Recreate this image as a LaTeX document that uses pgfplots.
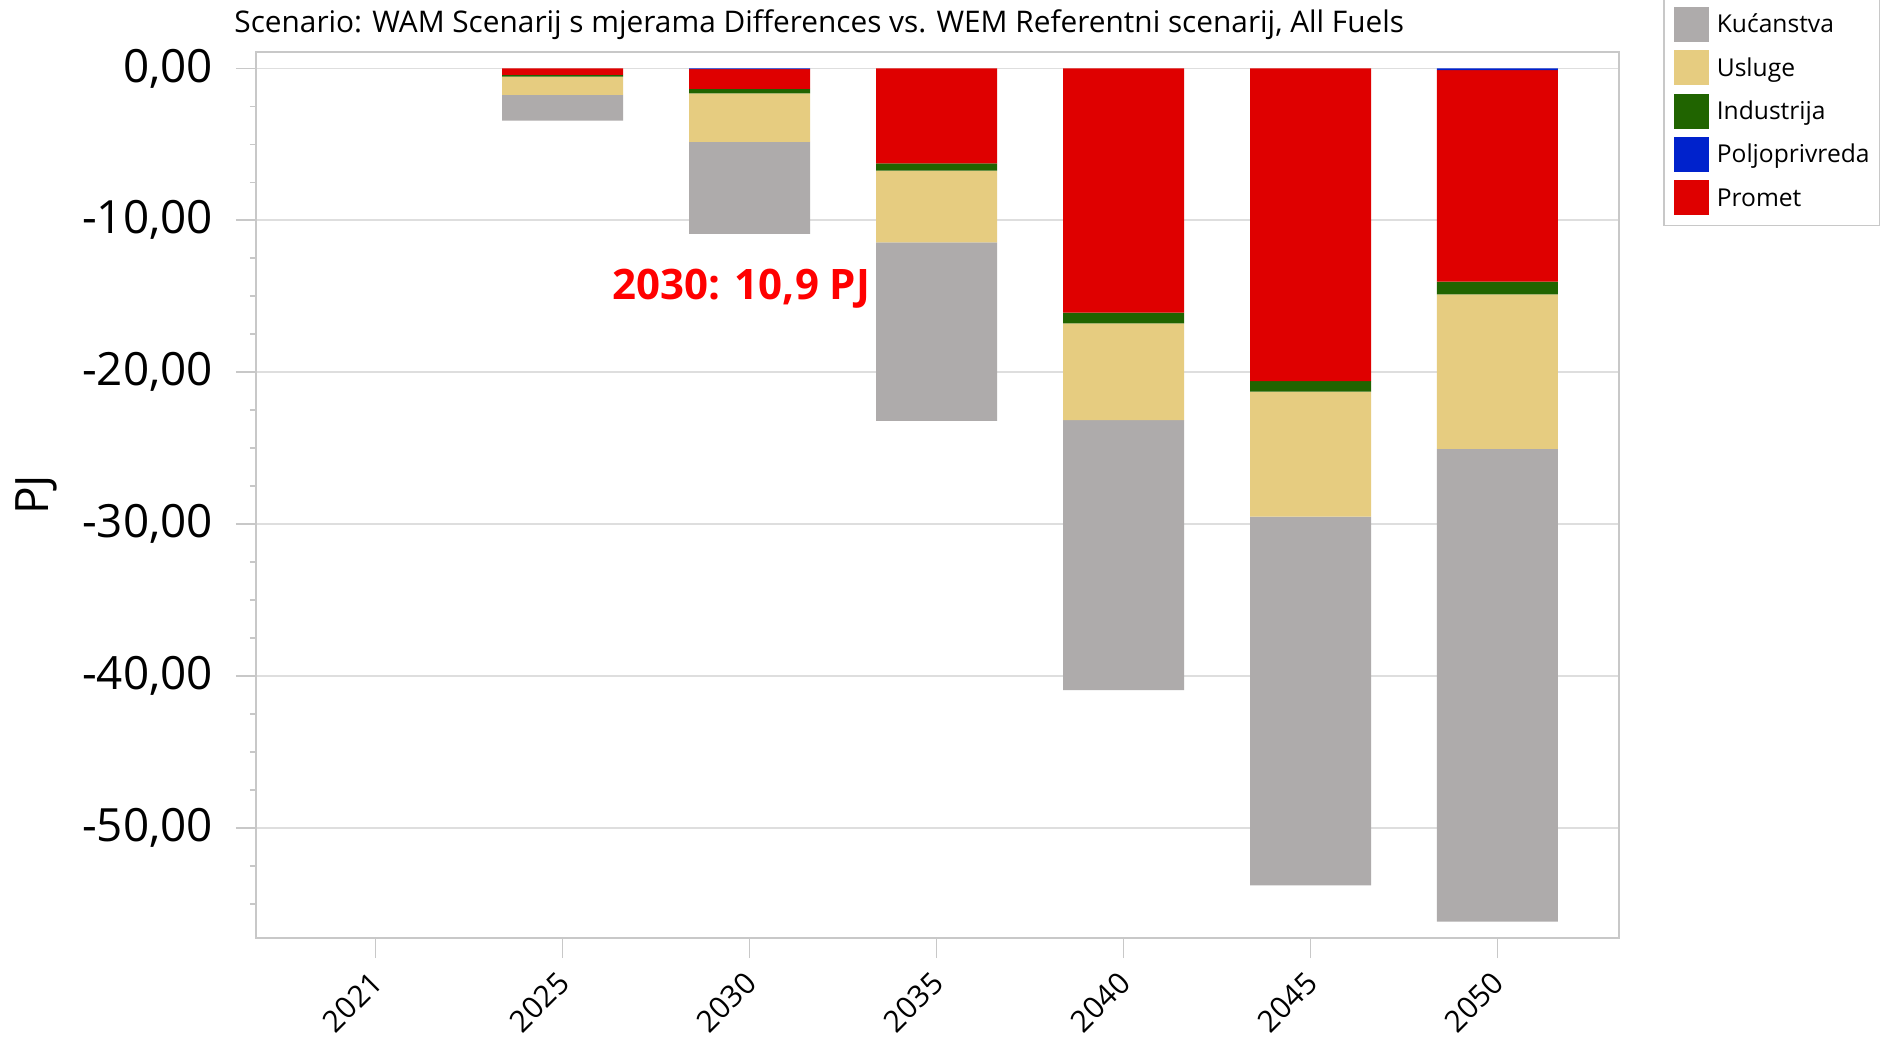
\documentclass[border=0pt]{standalone}
\usepackage{fontspec}
\setmainfont{Open Sans}
\usepackage{pgfplots}
\usepackage{pgfplotstable}
\pgfplotsset{compat=1.18}

\definecolor{kuc}{HTML}{AEABAB}
\definecolor{usl}{HTML}{E6CC80}
\definecolor{ind}{HTML}{206400}
\definecolor{pol}{HTML}{0022CC}
\definecolor{pro}{HTML}{DF0000}
\definecolor{frame}{HTML}{C8C8C8}
\definecolor{gridc}{HTML}{DEDEDE}

% PJ, razlika WAM - WEM
\pgfplotstableread{
x kuc    usl    ind   pol   pro
0 0      0      0     0     0
1 -1.69  -1.20  -0.11 0     -0.43
2 -6.07  -3.19  -0.29 -0.05 -1.30
3 -11.76 -4.72  -0.48 0     -6.25
4 -17.78 -6.37  -0.70 0     -16.08
5 -24.27 -8.23  -0.70 0     -20.58
6 -31.12 -10.18 -0.83 -0.11 -13.93
}\data

\pgfplotsset{sqlegend/.style={legend image code/.code={\fill[##1] (0bp,-9.4bp) rectangle (17.5bp,8.1bp);}}}

\begin{document}
\begin{tikzpicture}
\useasboundingbox[fill=white] (-128bp,-51bp) rectangle (813bp,469bp);
\begin{axis}[
    ybar stacked,
    scale only axis,
    width=681.5bp, height=443bp,
    bar width=60.5bp,
    xmin=-0.64, xmax=6.65,
    ymin=-57.25, ymax=1.08,
    xtick={0,...,6},
    xticklabels={2021,2025,2030,2035,2040,2045,2050},
    ytick={-50,-40,-30,-20,-10,0},
    yticklabels={{-50,00},{-40,00},{-30,00},{-20,00},{-10,00},{0,00}},
    minor ytick={-55,-52.5,...,0},
    xtick pos=bottom, ytick pos=left,
    tick align=outside,
    major tick length=10bp, minor tick length=3bp,
    tick style={draw=frame, line width=0.8bp},
    axis line style={draw=frame, line width=1bp},
    ymajorgrids, grid style={draw=gridc, line width=0.8bp},
    yticklabel style={font=\fontsize{22.9bp}{27bp}\selectfont, xshift=-8bp},
    xticklabel style={font=\fontsize{15bp}{18bp}\selectfont, yshift=-7.5bp, xshift=3bp, rotate=45, anchor=east},
    ylabel={PJ},
    every axis y label/.style={at={(axis description cs:-0.1614,0.5)}, rotate=90, anchor=center,
        font=\fontsize{23bp}{27bp}\selectfont},
    legend style={at={(1.0323,1.0643)}, anchor=north west, draw=frame, line width=0.8bp,
        inner sep=5bp, font=\fontsize{12.3bp}{14bp}\selectfont,
        row sep=3.5bp, column sep=4bp,
        nodes={inner sep=0pt, text height=13.5bp, text depth=4bp}},
    legend cell align=left,
]
\addplot[fill=pol, draw=none, forget plot] table[x=x, y=pol] {\data};
\addplot[fill=pro, draw=none, forget plot] table[x=x, y=pro] {\data};
\addplot[fill=ind, draw=none, forget plot] table[x=x, y=ind] {\data};
\addplot[fill=usl, draw=none, forget plot] table[x=x, y=usl] {\data};
\addplot[fill=kuc, draw=none, forget plot] table[x=x, y=kuc] {\data};

\addlegendimage{fill=kuc, draw=none, sqlegend}
\addlegendentry{Kućanstva}
\addlegendimage{fill=usl, draw=none, sqlegend}
\addlegendentry{Usluge}
\addlegendimage{fill=ind, draw=none, sqlegend}
\addlegendentry{Industrija}
\addlegendimage{fill=pol, draw=none, sqlegend}
\addlegendentry{Poljoprivreda}
\addlegendimage{fill=pro, draw=none, sqlegend}
\addlegendentry{Promet}

\node[font=\bfseries\fontsize{21bp}{25bp}\selectfont, text=red] at (axis cs:1.956,-14.52) {2030: 10,9 PJ};
\end{axis}
\node[anchor=base west, font=\fontsize{14.9bp}{18bp}\selectfont, inner sep=0pt]
    at (-11bp,452.5bp) {Scenario: WAM Scenarij s mjerama Differences vs. WEM Referentni scenarij, All Fuels};
\end{tikzpicture}
\end{document}
